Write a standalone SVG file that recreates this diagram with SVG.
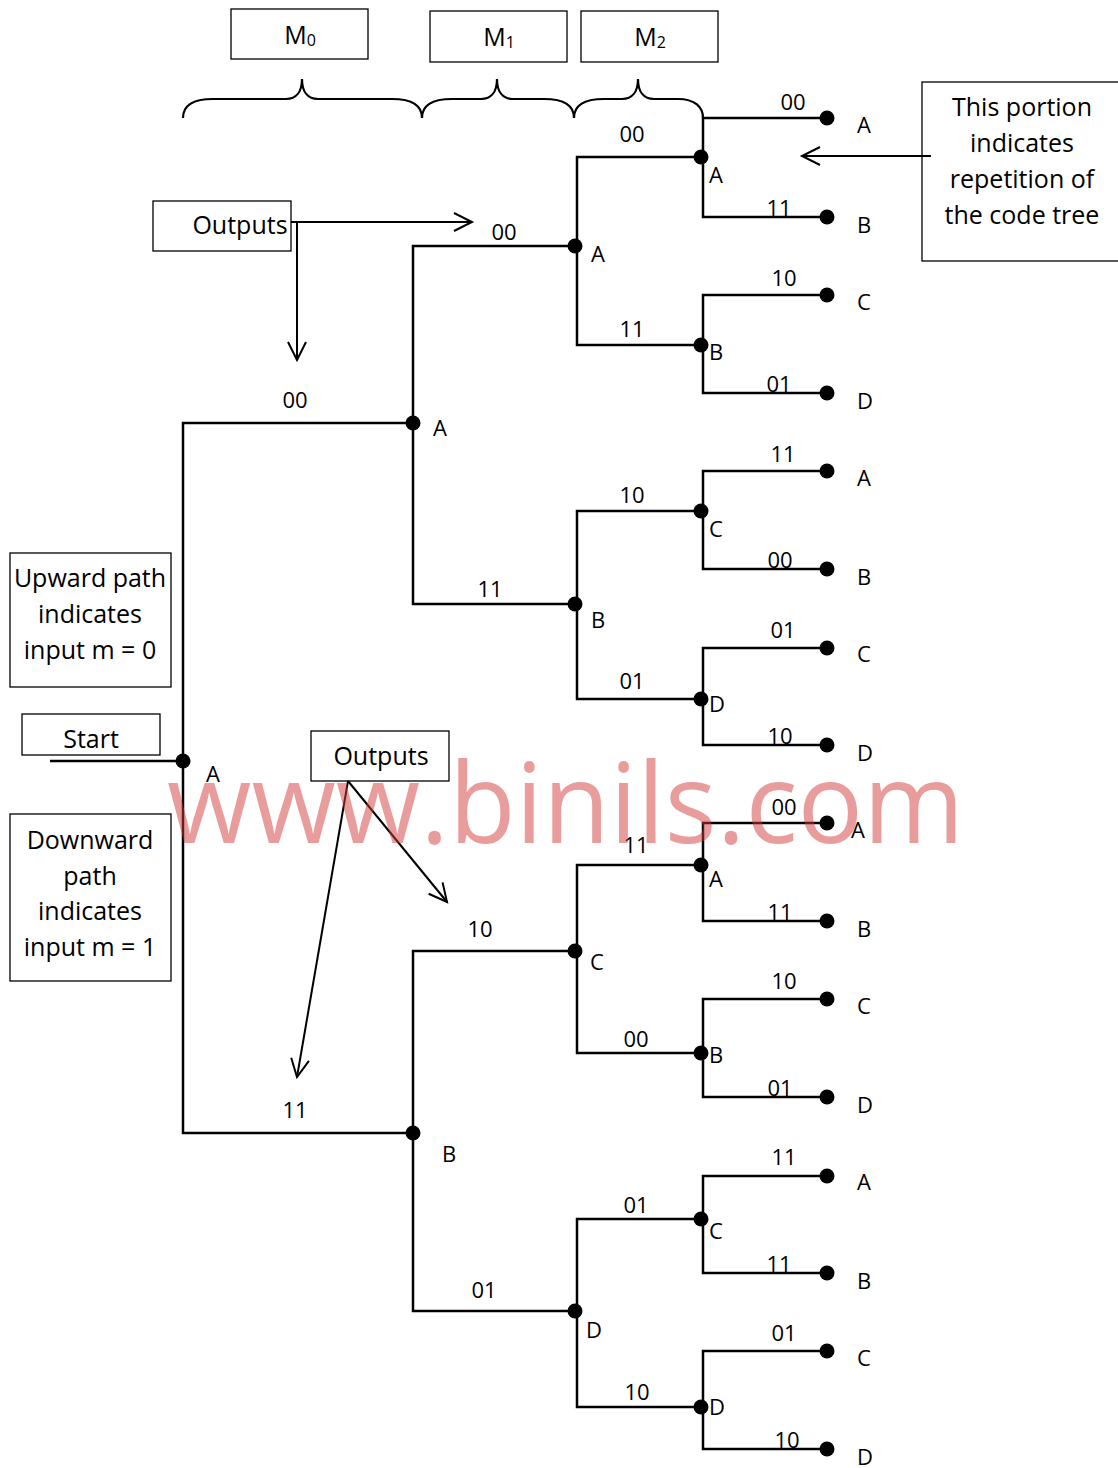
<svg xmlns="http://www.w3.org/2000/svg" width="1118" height="1468" viewBox="0 0 1118 1468">
<style>
text{font-family:"Open Sans","Liberation Sans",sans-serif;fill:#000}
.e{font-size:22px;text-anchor:middle}
.n{font-size:22px;text-anchor:start}
.bt{font-size:25px;text-anchor:middle}
.box{fill:#fff;stroke:#000;stroke-width:1.3}
.ln{fill:none;stroke:#000;stroke-width:2.5}
.ar{fill:none;stroke:#000;stroke-width:2}
.br{fill:none;stroke:#000;stroke-width:2.2}
.dot{fill:#000}
</style>
<defs>
<marker id="arr" markerUnits="userSpaceOnUse" orient="auto" overflow="visible" markerWidth="20" markerHeight="20">
<path d="M-18,-9 L0,0 L-18,9" fill="none" stroke="#000" stroke-width="2"/>
</marker>
</defs>

<g id="memory-labels">
<g id="m0"><rect class="box" x="231" y="9" width="137" height="50"/><text class="bt" x="300" y="44">M<tspan font-size="16" dy="2">0</tspan></text></g>
<g id="m1"><rect class="box" x="430" y="11" width="137" height="51"/><text class="bt" x="499" y="46">M<tspan font-size="16" dy="2">1</tspan></text></g>
<g id="m2"><rect class="box" x="581" y="11" width="137" height="51"/><text class="bt" x="650" y="46">M<tspan font-size="16" dy="2">2</tspan></text></g>
<g id="braces">
<path class="br" d="M183,118 C183,105 193,99 213,99 L286,99 C296,99 302,92 302,79 C302,92 308,99 318,99 L392,99 C412,99 422,105 422,118"/>
<path class="br" d="M422,118 C422,105 432,99 452,99 L481,99 C491,99 497,92 497,79 C497,92 503,99 513,99 L544,99 C564,99 574,105 574,118"/>
<path class="br" d="M574,118 C574,105 584,99 604,99 L622,99 C632,99 638,92 638,79 C638,92 644,99 654,99 L678,99 C695,99 703,107 703,118"/>
</g>
</g>

<g id="note-repetition">
<rect class="box" x="922" y="82" width="200" height="179"/>
<text class="bt" x="1022" y="116">This portion</text>
<text class="bt" x="1022" y="152">indicates</text>
<text class="bt" x="1022" y="188">repetition of</text>
<text class="bt" x="1022" y="224">the code tree</text>
</g>
<g id="note-outputs-1">
<rect class="box" x="153" y="201" width="138" height="50"/>
<text class="bt" x="240" y="234">Outputs</text>
</g>
<g id="note-upward">
<rect class="box" x="10" y="553" width="161" height="134"/>
<text class="bt" x="90" y="587">Upward path</text>
<text class="bt" x="90" y="623">indicates</text>
<text class="bt" x="90" y="659">input m = 0</text>
</g>
<g id="note-start">
<rect class="box" x="22" y="714" width="138" height="41"/>
<text class="bt" x="91" y="748">Start</text>
</g>
<g id="note-downward">
<rect class="box" x="10" y="814" width="161" height="167"/>
<text class="bt" x="90" y="849">Downward</text>
<text class="bt" x="90" y="885">path</text>
<text class="bt" x="90" y="920">indicates</text>
<text class="bt" x="90" y="956">input m = 1</text>
</g>
<g id="note-outputs-2">
<rect class="box" x="311" y="731" width="138" height="50"/>
<text class="bt" x="381" y="765">Outputs</text>
</g>

<g id="connectors">
<path class="ln" d="M50,761 H183"/>
<path class="ln" d="M413,423 H183 V1133 H413"/>
<path class="ln" d="M575,246 H413 V604 H575"/>
<path class="ln" d="M575,951 H413 V1311 H575"/>
<path class="ln" d="M701,157 H577 V345 H701"/>
<path class="ln" d="M701,511 H577 V699 H701"/>
<path class="ln" d="M701,865 H577 V1053 H701"/>
<path class="ln" d="M701,1219 H577 V1407 H701"/>
<path class="ln" d="M827,118 H703 V217 H827"/>
<path class="ln" d="M827,295 H703 V393 H827"/>
<path class="ln" d="M827,471 H703 V569 H827"/>
<path class="ln" d="M827,648 H703 V745 H827"/>
<path class="ln" d="M827,823 H703 V921 H827"/>
<path class="ln" d="M827,999 H703 V1097 H827"/>
<path class="ln" d="M827,1176 H703 V1273 H827"/>
<path class="ln" d="M827,1351 H703 V1449 H827"/>
<path class="ar" d="M931,156 H802" marker-end="url(#arr)"/>
<path class="ar" d="M291,222 H297 H472" marker-end="url(#arr)"/>
<path class="ar" d="M297,222 V360" marker-end="url(#arr)"/>
<path class="ar" d="M348,781 L447,902" marker-end="url(#arr)"/>
<path class="ar" d="M348,781 L297,1077" marker-end="url(#arr)"/>
<g id="edge-labels">
<text class="e" x="295" y="408">00</text>
<text class="e" x="295" y="1118">11</text>
<text class="e" x="504" y="240">00</text>
<text class="e" x="490" y="597">11</text>
<text class="e" x="480" y="937">10</text>
<text class="e" x="484" y="1298">01</text>
<text class="e" x="632" y="142">00</text>
<text class="e" x="632" y="337">11</text>
<text class="e" x="632" y="503">10</text>
<text class="e" x="632" y="689">01</text>
<text class="e" x="636" y="853">11</text>
<text class="e" x="636" y="1047">00</text>
<text class="e" x="636" y="1213">01</text>
<text class="e" x="637" y="1400">10</text>
<text class="e" x="793" y="110">00</text>
<text class="e" x="779" y="216">11</text>
<text class="e" x="784" y="286">10</text>
<text class="e" x="779" y="392">01</text>
<text class="e" x="783" y="462">11</text>
<text class="e" x="780" y="568">00</text>
<text class="e" x="783" y="638">01</text>
<text class="e" x="780" y="744">10</text>
<text class="e" x="784" y="815">00</text>
<text class="e" x="780" y="920">11</text>
<text class="e" x="784" y="989">10</text>
<text class="e" x="780" y="1096">01</text>
<text class="e" x="784" y="1165">11</text>
<text class="e" x="779" y="1272">11</text>
<text class="e" x="784" y="1341">01</text>
<text class="e" x="787" y="1448">10</text>
</g>
</g>

<g id="nodes">
<g id="n-root"><circle class="dot" cx="183" cy="761" r="7.5"/><text class="n" x="206" y="782">A</text></g>
<g id="n-1a"><circle class="dot" cx="413" cy="423" r="7.5"/><text class="n" x="433" y="436">A</text></g>
<g id="n-1b"><circle class="dot" cx="413" cy="1133" r="7.5"/><text class="n" x="442" y="1162">B</text></g>
<g id="n-2a"><circle class="dot" cx="575" cy="246" r="7.5"/><text class="n" x="591" y="262">A</text></g>
<g id="n-2b"><circle class="dot" cx="575" cy="604" r="7.5"/><text class="n" x="591" y="628">B</text></g>
<g id="n-2c"><circle class="dot" cx="575" cy="951" r="7.5"/><text class="n" x="590" y="970">C</text></g>
<g id="n-2d"><circle class="dot" cx="575" cy="1311" r="7.5"/><text class="n" x="586" y="1338">D</text></g>
<g id="n-3a"><circle class="dot" cx="701" cy="157" r="7.5"/><text class="n" x="709" y="183">A</text></g>
<g id="n-3b"><circle class="dot" cx="701" cy="345" r="7.5"/><text class="n" x="709" y="360">B</text></g>
<g id="n-3c"><circle class="dot" cx="701" cy="511" r="7.5"/><text class="n" x="709" y="537">C</text></g>
<g id="n-3d"><circle class="dot" cx="701" cy="699" r="7.5"/><text class="n" x="709" y="712">D</text></g>
<g id="n-3e"><circle class="dot" cx="701" cy="865" r="7.5"/><text class="n" x="709" y="887">A</text></g>
<g id="n-3f"><circle class="dot" cx="701" cy="1053" r="7.5"/><text class="n" x="709" y="1063">B</text></g>
<g id="n-3g"><circle class="dot" cx="701" cy="1219" r="7.5"/><text class="n" x="709" y="1239">C</text></g>
<g id="n-3h"><circle class="dot" cx="701" cy="1407" r="7.5"/><text class="n" x="709" y="1415">D</text></g>
<g id="leaf-1"><circle class="dot" cx="827" cy="118" r="7.5"/><text class="n" x="857" y="133">A</text></g>
<g id="leaf-2"><circle class="dot" cx="827" cy="217" r="7.5"/><text class="n" x="857" y="233">B</text></g>
<g id="leaf-3"><circle class="dot" cx="827" cy="295" r="7.5"/><text class="n" x="857" y="310">C</text></g>
<g id="leaf-4"><circle class="dot" cx="827" cy="393" r="7.5"/><text class="n" x="857" y="409">D</text></g>
<g id="leaf-5"><circle class="dot" cx="827" cy="471" r="7.5"/><text class="n" x="857" y="486">A</text></g>
<g id="leaf-6"><circle class="dot" cx="827" cy="569" r="7.5"/><text class="n" x="857" y="585">B</text></g>
<g id="leaf-7"><circle class="dot" cx="827" cy="648" r="7.5"/><text class="n" x="857" y="662">C</text></g>
<g id="leaf-8"><circle class="dot" cx="827" cy="745" r="7.5"/><text class="n" x="857" y="761">D</text></g>
<g id="leaf-9"><circle class="dot" cx="827" cy="823" r="7.5"/><text class="n" x="851" y="838">A</text></g>
<g id="leaf-10"><circle class="dot" cx="827" cy="921" r="7.5"/><text class="n" x="857" y="937">B</text></g>
<g id="leaf-11"><circle class="dot" cx="827" cy="999" r="7.5"/><text class="n" x="857" y="1014">C</text></g>
<g id="leaf-12"><circle class="dot" cx="827" cy="1097" r="7.5"/><text class="n" x="857" y="1113">D</text></g>
<g id="leaf-13"><circle class="dot" cx="827" cy="1176" r="7.5"/><text class="n" x="857" y="1190">A</text></g>
<g id="leaf-14"><circle class="dot" cx="827" cy="1273" r="7.5"/><text class="n" x="857" y="1289">B</text></g>
<g id="leaf-15"><circle class="dot" cx="827" cy="1351" r="7.5"/><text class="n" x="857" y="1366">C</text></g>
<g id="leaf-16"><circle class="dot" cx="827" cy="1449" r="7.5"/><text class="n" x="857" y="1465">D</text></g>
</g>

<text id="watermark" x="167" y="843" font-family="Liberation Sans, Arial, sans-serif" font-size="112" fill="#d43a3a" fill-opacity="0.5" textLength="797" lengthAdjust="spacingAndGlyphs" style="fill:#d43a3a">www.binils.com</text>
</svg>
